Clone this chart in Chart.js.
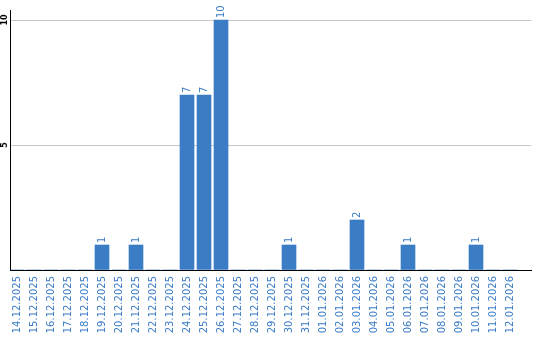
<!DOCTYPE html>
<html>
<head>
<meta charset="utf-8">
<script src="https://cdn.jsdelivr.net/npm/chart.js@4"></script>
<style>
html,body{margin:0;padding:0;background:#fff;}
#wrap{width:540px;height:340px;position:relative;}
</style>
</head>
<body>
<div id="wrap"><canvas id="c" width="540" height="340"></canvas></div>
<script>
const dates = ["14.12.2025","15.12.2025","16.12.2025","17.12.2025","18.12.2025","19.12.2025","20.12.2025","21.12.2025","22.12.2025","23.12.2025","24.12.2025","25.12.2025","26.12.2025","27.12.2025","28.12.2025","29.12.2025","30.12.2025","31.12.2025","01.01.2026","02.01.2026","03.01.2026","04.01.2026","05.01.2026","06.01.2026","07.01.2026","08.01.2026","09.01.2026","10.01.2026","11.01.2026","12.01.2026"];
const counts = [0,0,0,0,0,1,0,1,0,0,7,7,10,0,0,0,1,0,0,0,2,0,0,1,0,0,0,1,0,0];
const yTicks = [5,10];

const BLUE = '#3b7dc4';
const TEXT_BLUE = '#3a7cc6';

const valueLabels = {
  id: 'valueLabels',
  afterDatasetsDraw(chart) {
    const ctx = chart.ctx;
    const meta = chart.getDatasetMeta(0);
    ctx.save();
    ctx.fillStyle = TEXT_BLUE;
    ctx.font = '10px "DejaVu Sans"';
    ctx.textAlign = 'left';
    ctx.textBaseline = 'middle';
    meta.data.forEach((bar, i) => {
      const v = counts[i];
      if (!v) return;
      ctx.save();
      ctx.translate(bar.x + 0.5, bar.y - 2);
      ctx.rotate(-Math.PI / 2);
      ctx.fillText(String(v), 0, 0);
      ctx.restore();
    });
    ctx.restore();
  }
};

new Chart(document.getElementById('c'), {
  type: 'bar',
  data: {
    datasets: [{
      data: counts.map((v, i) => ({x: i, y: v})),
      backgroundColor: BLUE,
      borderWidth: 0,
      barThickness: 14
    }]
  },
  options: {
    responsive: false,
    animation: false,
    devicePixelRatio: 1,
    layout: {padding: {top: 10, right: 9, left: 0, bottom: 0}},
    plugins: {legend: {display: false}, tooltip: {enabled: false}},
    scales: {
      x: {
        type: 'linear',
        offset: false,
        min: -0.4118,
        max: 30.235,
        afterFit(s) { s.height = 70; s.paddingLeft = 0; s.paddingRight = 0; },
        grid: {display: false, drawTicks: false, offset: false},
        border: {display: true, color: '#000', width: 1},
        ticks: {
          stepSize: 1,
          maxTicksLimit: 100,
          includeBounds: false,
          autoSkip: false,
          minRotation: 90,
          maxRotation: 90,
          padding: 6,
          color: TEXT_BLUE,
          font: {family: '"DejaVu Sans"', size: 10},
          callback: (v) => dates[v] !== undefined && Number.isInteger(v) ? dates[v] : ''
        }
      },
      y: {
        min: 0,
        max: 10.4,
        afterFit(s) { s.width = 10; s.paddingTop = 0; s.paddingBottom = 0; },
        grid: {color: (c) => yTicks.includes(c.tick && c.tick.value) ? '#c8c8c8' : 'rgba(0,0,0,0)', drawTicks: false},
        border: {display: true, color: '#000', width: 1},
        ticks: {
          stepSize: 5,
          includeBounds: false,
          minRotation: 90,
          maxRotation: 90,
          crossAlign: 'center',
          padding: 0,
          color: '#000',
          font: {family: '"DejaVu Sans"', size: 8, weight: 'bold'},
          callback: (v) => yTicks.includes(v) ? String(v) : ''
        }
      }
    }
  },
  plugins: [valueLabels]
});
</script>
</body>
</html>
